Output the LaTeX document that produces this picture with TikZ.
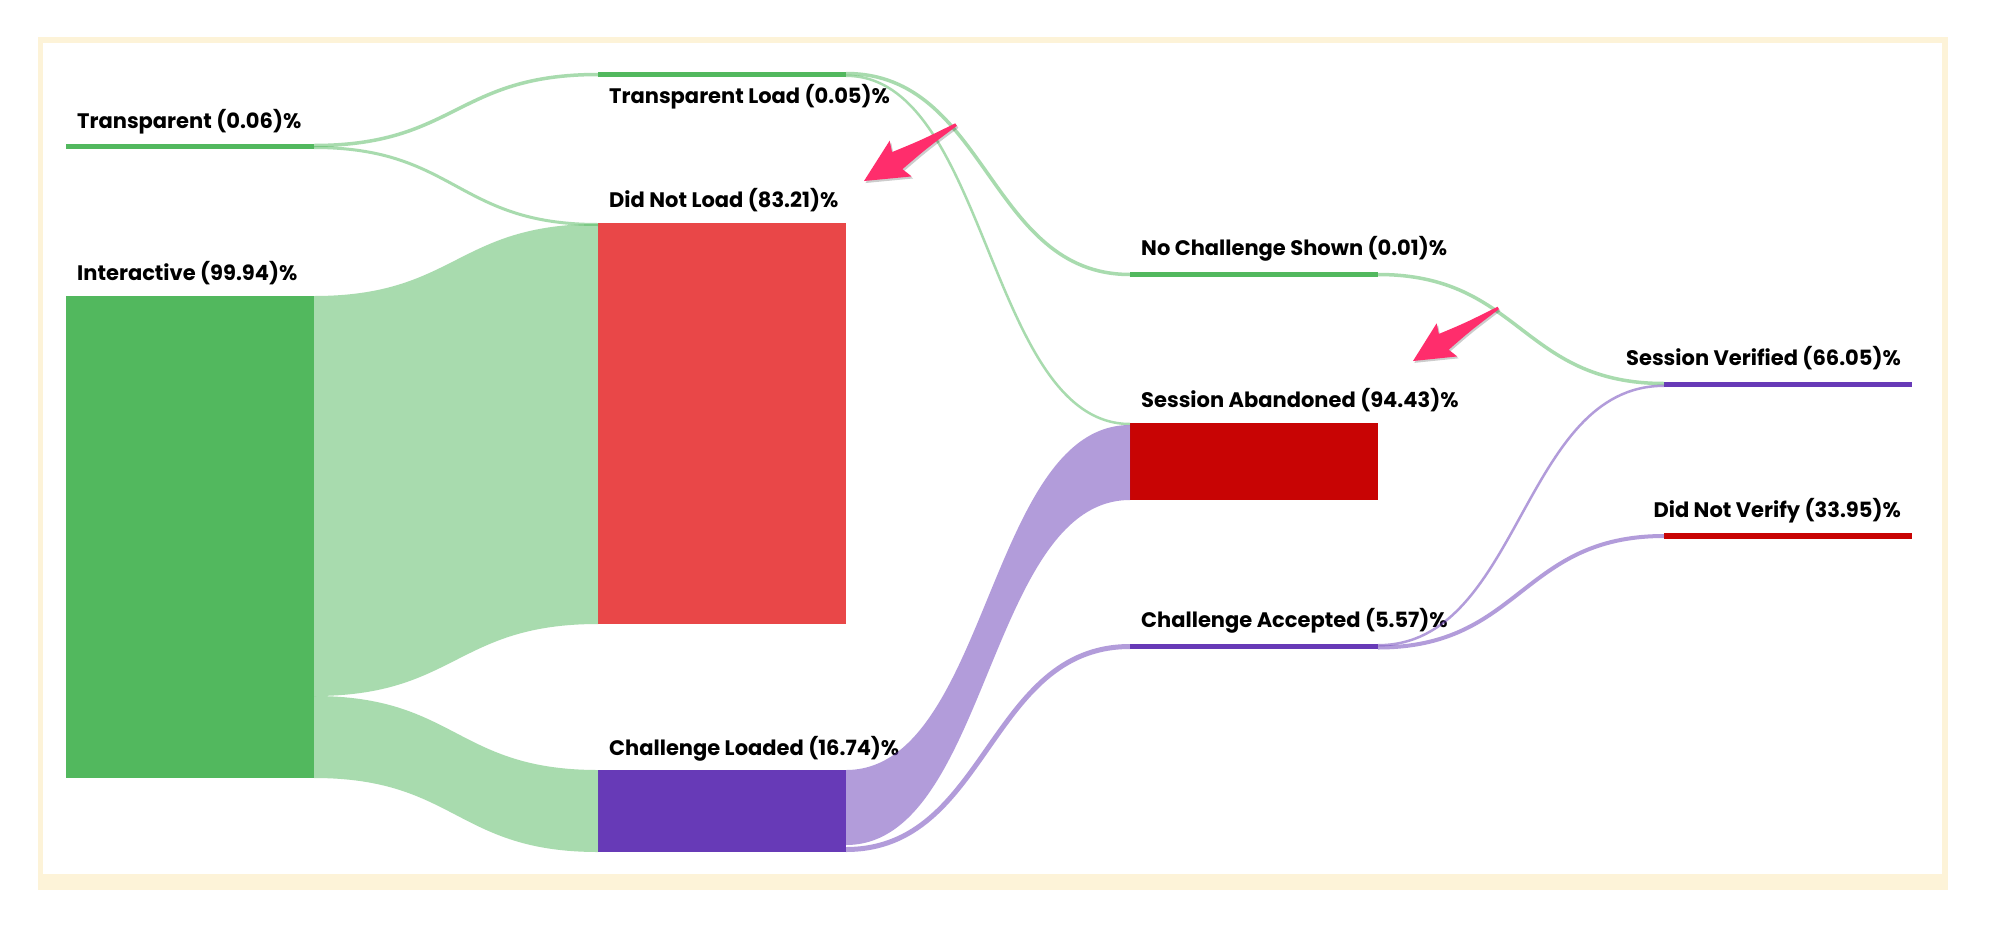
\documentclass[tikz,border=0pt]{standalone}
\usepackage{fontspec}
\setmainfont{Poppins}
\usetikzlibrary{calc}

\definecolor{nodegreen}{RGB}{82,184,94}
\definecolor{nodered}{RGB}{233,71,72}
\definecolor{darkred}{RGB}{200,4,4}
\definecolor{nodepurple}{RGB}{103,58,183}
\definecolor{hotpink}{RGB}{255,45,108}
\definecolor{cream}{RGB}{253,243,216}

% wide flow: source, offset, target, offset, width, colour
\newcommand{\bandlink}[6]{%
  \fill[#6,opacity=0.5] let \p1=([yshift=-#2pt]#1.north east), \p2=([yshift=-#4pt]#3.north west) in
    (\p1) .. controls ({(\x1+\x2)/2},\y1) and ({(\x1+\x2)/2},\y2) .. (\p2)
    -- ++(0,#5) .. controls ({(\x1+\x2)/2},{\y2-#5pt}) and ({(\x1+\x2)/2},{\y1-#5pt}) .. (\x1,{\y1-#5pt}) -- cycle;}

% thin flow: source, centre offset, target, centre offset, width, colour
\newcommand{\linelink}[6]{%
  \draw[#6,opacity=0.5,line width=#5pt] let \p1=([yshift=-#2pt]#1.north east), \p2=([yshift=-#4pt]#3.north west) in
    (\p1) .. controls ({(\x1+\x2)/2},\y1) and ({(\x1+\x2)/2},\y2) .. (\p2);}

\tikzset{pointer/.pic={
    \fill[black,opacity=0.2,xshift=-0.2pt,yshift=2.5pt] (0,0) -- (-43,-21) -- (-39,-10) .. controls (-70,-5) .. (-108,-1.5)
      -- (-108,1.5) .. controls (-70,5) .. (-39,10) -- (-43,21) -- cycle;
    \fill[hotpink] (0,0) -- (-43,-21) -- (-39,-10) .. controls (-70,-5) .. (-108,-1.5)
      -- (-108,1.5) .. controls (-70,5) .. (-39,10) -- (-43,21) -- cycle;
  }}

\begin{document}
\begin{tikzpicture}[x=1pt,y=-1pt,
    bar/.style={fill=#1,inner sep=0pt,outer sep=0pt,minimum width=248pt,anchor=north west},
    lbl/.style={font=\fontsize{21}{25}\selectfont\bfseries,inner sep=0pt}]
        \useasboundingbox (0,0) rectangle (2006,924);

        % Frame
        \fill[white] (0,0) rectangle (2006,924);
        \fill[cream] (38,37) rectangle (1948,890);
        \fill[white] (43,43) rectangle (1942,874);

        % Nodes
        \node[bar=nodegreen,minimum height=5pt] (trans) at (66,144) {};
        \node[bar=nodegreen,minimum height=482pt] (inter) at (66,296) {};
        \node[bar=nodegreen,minimum height=5pt] (tload) at (598,72) {};
        \node[bar=nodered,minimum height=401pt] (dnl) at (598,223) {};
        \node[bar=nodepurple,minimum height=82pt] (cload) at (598,770) {};
        \node[bar=nodegreen,minimum height=5pt] (ncs) at (1130,272) {};
        \node[bar=darkred,minimum height=77pt] (sab) at (1130,423) {};
        \node[bar=nodepurple,minimum height=5pt] (cacc) at (1130,644) {};
        \node[bar=nodepurple,minimum height=5pt] (sver) at (1664,382) {};
        \node[bar=darkred,minimum height=6pt] (dnv) at (1664,533) {};

        % Labels
        \node[lbl,anchor=base west] (transl) at ([xshift=11pt,yshift=16pt]trans.north west) {Transparent (0.06)\%};
        \node[lbl,anchor=base west] (interl) at ([xshift=11pt,yshift=16pt]inter.north west) {Interactive (99.94)\%};
        \node[lbl,anchor=base west] (tloadl) at ([xshift=11pt,yshift=-26pt]tload.south west) {Transparent Load (0.05)\%};
        \node[lbl,anchor=base west] (dnll) at ([xshift=11pt,yshift=16pt]dnl.north west) {Did Not Load (83.21)\%};
        \node[lbl,anchor=base west] (cloadl) at ([xshift=11pt,yshift=15pt]cload.north west) {Challenge Loaded (16.74)\%};
        \node[lbl,anchor=base west] (ncsl) at ([xshift=11pt,yshift=17pt]ncs.north west) {No Challenge Shown (0.01)\%};
        \node[lbl,anchor=base west] (sabl) at ([xshift=11pt,yshift=16pt]sab.north west) {Session Abandoned (94.43)\%};
        \node[lbl,anchor=base west] (caccl) at ([xshift=11pt,yshift=17pt]cacc.north west) {Challenge Accepted (5.57)\%};
        \node[lbl,anchor=base east] (sverl) at ([xshift=-11pt,yshift=17pt]sver.north east) {Session Verified (66.05)\%};
        \node[lbl,anchor=base east] (dnvl) at ([xshift=-11pt,yshift=16pt]dnv.north east) {Did Not Verify (33.95)\%};

        % Flows out of Transparent and Interactive
        \linelink{trans}{1.5}{tload}{2.5}{3.5}{nodegreen}
        \linelink{trans}{3.5}{dnl}{1.5}{3}{nodegreen}
        \bandlink{inter}{0}{dnl}{1}{400}{nodegreen}
        \bandlink{inter}{400}{cload}{0}{82}{nodegreen}

        % Flows out of the loads
        \linelink{tload}{1.5}{ncs}{2.5}{3.5}{nodegreen}
        \linelink{tload}{3.8}{sab}{1}{2.5}{nodegreen}
        \bandlink{cload}{0}{sab}{2}{75}{nodepurple}
        \linelink{cload}{79.5}{cacc}{2.5}{5}{nodepurple}

        % Flows into the last column
        \linelink{ncs}{2.5}{sver}{1.5}{3.5}{nodegreen}
        \linelink{cacc}{1.2}{sver}{3.8}{2.5}{nodepurple}
        \linelink{cacc}{3.5}{dnv}{3}{4}{nodepurple}

        % Pointers
        \pic[rotate=211.5] (pointa) at (864,181) {pointer};
        \pic[rotate=211.9,scale=0.93] (pointb) at (1413,361) {pointer};
      \end{tikzpicture}
\end{document}
